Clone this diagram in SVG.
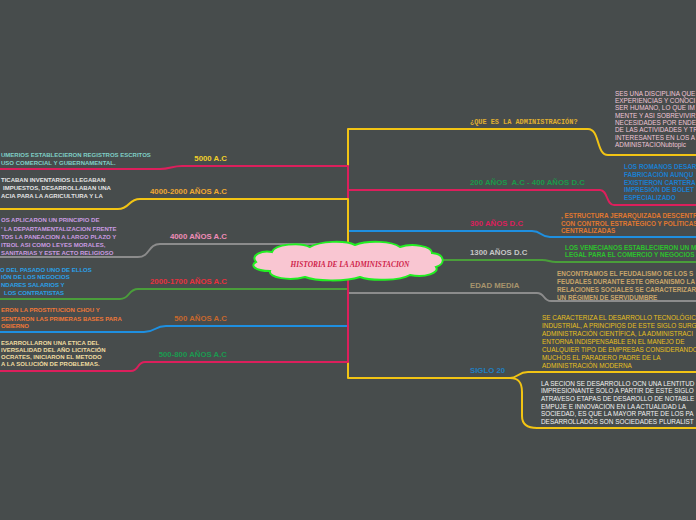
<svg xmlns="http://www.w3.org/2000/svg" width="696" height="520" viewBox="0 0 696 520">
<style>
.c{fill:none;stroke-width:2;stroke-linecap:butt;stroke-linejoin:round}
.lb{font-family:"Liberation Sans",Arial,sans-serif;font-weight:bold;font-size:7.8px}
.lt{font-family:"Liberation Sans",Arial,sans-serif;font-weight:bold;font-size:6px}
.rt{font-family:"Liberation Sans",Arial,sans-serif;font-size:6.4px}
.rb{font-family:"Liberation Sans",Arial,sans-serif;font-weight:bold;font-size:6.4px}
.end{text-anchor:end}
</style>
<rect width="696" height="520" fill="#474c4c"/>
<g id="connectors">
  <path class="c" stroke="#f2c414" d="M348,261 V129 H588 C600,129 596,155 608,155 H696"/>
  <path class="c" stroke="#1e8fe0" d="M348,261 V231 H532 C542,231 540,237 550,237 H696"/>
  <path class="c" stroke="#8c8c8c" d="M348,261 V244 H160 C148,244 150,257 138,257 H0"/>
  <path class="c" stroke="#dc1f5c" d="M348,261 V190 H600 C608,190 606,205 614,205 H696"/>
  <path class="c" stroke="#dc1f5c" d="M348,261 V166 H182 C172,166 170,169 160,169 H0"/>
  <path class="c" stroke="#f2c414" d="M348,261 V199 H140 C128,199 130,209 118,209 H0"/>
  <path class="c" stroke="#4a9e3a" d="M348,260 H542 C549,260 549,262 556,262 H696"/>
  <path class="c" stroke="#f2c414" d="M348,261 V378 H510 C518,378 518,372 528,372 H696"/>
  <path class="c" stroke="#f2c414" d="M510,378 C519,378 522,383 522,392 V416 C522,424 527,428 537,428 H696"/>
  <path class="c" stroke="#8c8c8c" d="M348,261 V293 H537 C545,293 543,301 551,301 H696"/>
  <path class="c" stroke="#4a9e3a" d="M348,261 V289 H138 C128,289 130,299 120,299 H0"/>
  <path class="c" stroke="#1e8fe0" d="M348,261 V326 H166 C154,326 156,332 144,332 H0"/>
  <path class="c" stroke="#dc1f5c" d="M348,261 V362 H145 C137,362 139,371 131,371 H0"/>
</g>
<g id="center">
  <path d="M256,262 C250,255 262,250 272,252 C275,244 300,242 310,247 C320,241 345,240 355,245 C368,240 392,241 400,247 C412,243 432,246 432,253 C445,254 446,264 436,267 C440,273 425,278 410,275 C400,281 370,281 360,277 C345,282 315,281 305,277 C290,281 268,278 270,271 C254,271 250,265 256,262 Z" fill="#f9c6d2" stroke="#22ee22" stroke-width="2"/>
  <text x="350" y="266.5" text-anchor="middle" font-family="'Liberation Serif','Times New Roman',serif" font-weight="bold" font-style="italic" font-size="7.4" fill="#cf1f4b">HISTORIA DE LA ADMINISTACION</text>
</g>
<g id="n5000">
  <text class="lb end" x="227" y="160.7" fill="#f2d02a">5000 A.C</text>
  <g class="lt" fill="#7fcfc6">
    <text x="1" y="156.7">UMERIOS ESTABLECIERON REGISTROS ESCRITOS</text>
    <text x="1" y="165">USO COMERCIAL Y GUBERNAMENTAL.</text>
  </g>
</g>
<g id="n4000-2000">
  <text class="lb end" x="227" y="194" fill="#f0a832">4000-2000 AÑOS A.C</text>
  <g class="lt" fill="#e4e4e4">
    <text x="1" y="181.7">TICABAN INVENTARIOS LLEGABAN</text>
    <text x="3" y="190">IMPUESTOS, DESARROLLABAN UNA</text>
    <text x="1" y="198.3">ACIA PARA LA AGRICULTURA Y LA</text>
  </g>
</g>
<g id="n4000">
  <text class="lb end" x="227" y="238.7" fill="#f08cb8">4000 AÑOS A.C</text>
  <g class="lt" fill="#c99be0">
    <text x="1" y="222.3">OS APLICARON UN PRINCIPIO DE</text>
    <text x="1" y="230.7">' LA DEPARTAMENTALIZACION FRENTE</text>
    <text x="1" y="238.7">TOS LA PANEACION A LARGO PLAZO Y</text>
    <text x="1" y="246.7">ITBOL ASI COMO LEYES MORALES,</text>
    <text x="1" y="254.7">SANITARIAS Y ESTE ACTO RELIGIOSO</text>
  </g>
</g>
<g id="n2000-1700">
  <text class="lb end" x="227" y="284" fill="#e8303e">2000-1700 AÑOS A.C</text>
  <g class="lt" fill="#2aa0e8">
    <text x="0" y="271.7">O DEL PASADO UNO DE ELLOS</text>
    <text x="1" y="279.3">IÓN DE LOS NEGOCIOS</text>
    <text x="1" y="287">NDARES SALARIOS Y</text>
    <text x="4" y="295">LOS CONTRATISTAS</text>
  </g>
</g>
<g id="n500">
  <text class="lb end" x="227" y="321" fill="#c8682c">500 AÑOS A.C</text>
  <g class="lt" fill="#f07838">
    <text x="1" y="312.3">ERON LA PROSTITUCION CHOU Y</text>
    <text x="1" y="320.7">SENTARON LAS PRIMERAS BASES PARA</text>
    <text x="1" y="328.3">OBIERNO</text>
  </g>
</g>
<g id="n500-800">
  <text class="lb end" x="227" y="356.7" fill="#1a9a50">500-800 AÑOS A.C</text>
  <g class="lt" fill="#f0dca0">
    <text x="1" y="344.7">ESARROLLARON UNA ETICA DEL</text>
    <text x="1" y="352">IVERSALIDAD DEL AÑO LICITACIÓN</text>
    <text x="1" y="359">OCRATES, INICIARON EL METODO</text>
    <text x="1" y="366.3">A LA SOLUCIÓN DE PROBLEMAS.</text>
  </g>
</g>
<g id="nQue">
  <text x="470" y="124" font-family="'Liberation Mono','Courier New',monospace" font-weight="bold" font-size="6.9" fill="#e0b030">¿QUE ES LA ADMINISTRACIÓN?</text>
  <g class="rt" fill="#efc6d6">
    <text x="615" y="95.7">SES UNA DISCIPLINA QUE</text>
    <text x="615" y="103">EXPERIENCIAS Y CONOCI</text>
    <text x="615" y="110.3">SER HUMANO, LO QUE IM</text>
    <text x="615" y="117.6">MENTE Y ASI SOBREVIVIR</text>
    <text x="615" y="124.9">NECESIDADES POR ENDE</text>
    <text x="615" y="132.2">DE LAS ACTIVIDADES Y TR</text>
    <text x="615" y="139.5">INTERESANTES EN LOS A</text>
    <text x="615" y="146.8">ADMINISTACIONubtopic</text>
  </g>
</g>
<g id="n200">
  <text class="lb" x="470" y="184.5" fill="#1a9a4a" xml:space="preserve">200 AÑOS  A.C - 400 AÑOS D.C</text>
  <g class="rb" fill="#1a7fd0">
    <text x="624" y="169">LOS ROMANOS DESAR</text>
    <text x="624" y="176.8">FABRICACIÓN AUNQU</text>
    <text x="624" y="184.6">EXISTIERON CARTERA</text>
    <text x="624" y="192.4">IMPRESIÓN DE BOLET</text>
    <text x="624" y="200.2">ESPECIALIZADO</text>
  </g>
</g>
<g id="n300">
  <text class="lb" x="470" y="225.7" fill="#dc1f5c">300 AÑOS D.C</text>
  <g class="rb" fill="#e07830">
    <text x="561" y="218">, ESTRUCTURA JERARQUIZADA DESCENTR</text>
    <text x="561" y="225.7">CON CONTROL ESTRATÉGICO Y POLÍTICAS</text>
    <text x="561" y="233.3">CENTRALIZADAS</text>
  </g>
</g>
<g id="n1300">
  <text class="lb" x="470" y="255" fill="#c6c6c6">1300 AÑOS D.C</text>
  <g class="rb" fill="#2ec02e">
    <text x="565" y="250">LOS VENECIANOS ESTABLECIERON UN M</text>
    <text x="565" y="257.3">LEGAL PARA EL COMERCIO Y NEGOCIOS</text>
  </g>
</g>
<g id="nEdad">
  <text class="lb" x="470" y="287.5" font-size="8" fill="#a8946c">EDAD MEDIA</text>
  <g class="rb" fill="#c8a46a">
    <text x="557" y="275.7">ENCONTRAMOS EL FEUDALISMO  DE LOS S</text>
    <text x="557" y="283.7">FEUDALES DURANTE ESTE ORGANISMO LA</text>
    <text x="557" y="291.7">RELACIONES SOCIALES SE CARACTERIZAR</text>
    <text x="557" y="299.7">UN RÉGIMEN DE SERVIDUMBRE</text>
  </g>
</g>
<g id="nSiglo">
  <text class="lb" x="470" y="373" fill="#1f7fc0">SIGLO 20</text>
  <g class="rt" fill="#e8c020">
    <text x="542" y="320">SE CARACTERIZA EL DESARROLLO TECNOLÓGIC</text>
    <text x="542" y="328">INDUSTRIAL, A PRINCIPIOS DE ESTE SIGLO SURG</text>
    <text x="542" y="336">ADMINISTRACIÓN CIENTÍFICA, LA ADMINISTRACI</text>
    <text x="542" y="344">ENTORNA INDISPENSABLE EN EL MANEJO DE</text>
    <text x="542" y="352">CUALQUIER TIPO DE EMPRESAS CONSIDERANDO</text>
    <text x="542" y="360">MUCHOS EL PARADERO PADRE DE LA</text>
    <text x="542" y="368">ADMINISTRACIÓN MODERNA</text>
  </g>
  <g class="rt" fill="#f2f2f2">
    <text x="541" y="385.5">LA SECION SE DESARROLLO OCN UNA LENTITUD</text>
    <text x="541" y="393.2">IMPRESIONANTE SOLO A PARTIR DE ESTE SIGLO</text>
    <text x="541" y="400.9">ATRAVESO ETAPAS DE DESAROLLO DE NOTABLE</text>
    <text x="541" y="408.6">EMPUJE E INNOVACION EN LA ACTUALIDAD LA</text>
    <text x="541" y="416.3">SOCIEDAD, ES QUE LA MAYOR PARTE DE LOS PA</text>
    <text x="541" y="424">DESARROLLADOS SON SOCIEDADES PLURALIST</text>
  </g>
</g>
</svg>
